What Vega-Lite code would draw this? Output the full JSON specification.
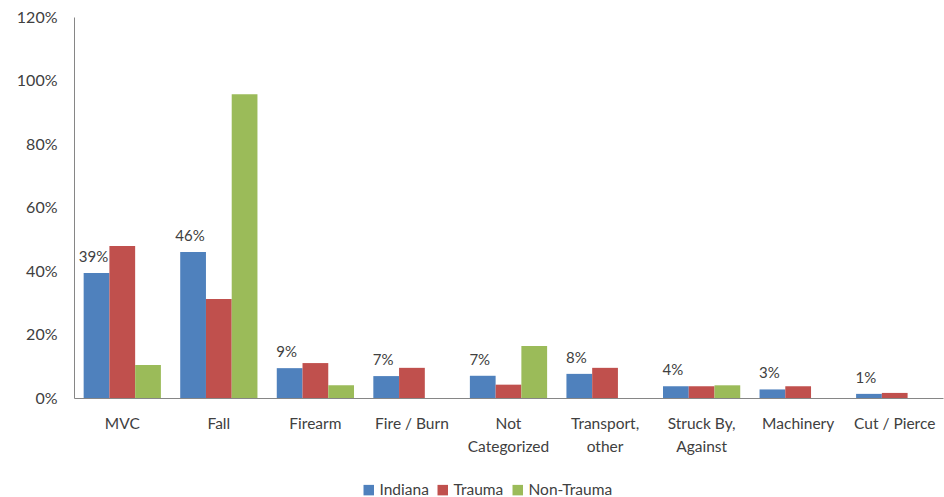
{
  "$schema": "https://vega.github.io/schema/vega-lite/v6.json",
  "autosize": {"type": "none"},
  "width": 869,
  "height": 381,
  "padding": {"left": 74, "top": 17, "right": 1, "bottom": 99},
  "background": "white",
  "config": {
    "font": "Lato",
    "view": {"stroke": null},
    "axis": {"labelFont": "Lato", "labelColor": "#404040", "grid": false, "ticks": false, "domainColor": "#868686", "title": null}
  },
  "data": {
    "values": [
      {"cat": "MVC", "series": "Indiana", "v": 0.394},
      {"cat": "MVC", "series": "Trauma", "v": 0.479},
      {"cat": "MVC", "series": "Non-Trauma", "v": 0.104},
      {"cat": "Fall", "series": "Indiana", "v": 0.46},
      {"cat": "Fall", "series": "Trauma", "v": 0.312},
      {"cat": "Fall", "series": "Non-Trauma", "v": 0.957},
      {"cat": "Firearm", "series": "Indiana", "v": 0.094},
      {"cat": "Firearm", "series": "Trauma", "v": 0.11},
      {"cat": "Firearm", "series": "Non-Trauma", "v": 0.04},
      {"cat": "Fire / Burn", "series": "Indiana", "v": 0.069},
      {"cat": "Fire / Burn", "series": "Trauma", "v": 0.095},
      {"cat": "Not|Categorized", "series": "Indiana", "v": 0.07},
      {"cat": "Not|Categorized", "series": "Trauma", "v": 0.042},
      {"cat": "Not|Categorized", "series": "Non-Trauma", "v": 0.164},
      {"cat": "Transport,|other", "series": "Indiana", "v": 0.076},
      {"cat": "Transport,|other", "series": "Trauma", "v": 0.095},
      {"cat": "Struck By,|Against", "series": "Indiana", "v": 0.037},
      {"cat": "Struck By,|Against", "series": "Trauma", "v": 0.037},
      {"cat": "Struck By,|Against", "series": "Non-Trauma", "v": 0.04},
      {"cat": "Machinery", "series": "Indiana", "v": 0.027},
      {"cat": "Machinery", "series": "Trauma", "v": 0.037},
      {"cat": "Cut / Pierce", "series": "Indiana", "v": 0.013},
      {"cat": "Cut / Pierce", "series": "Trauma", "v": 0.016}
    ]
  },
  "encoding": {
    "x": {
      "field": "cat", "type": "nominal", "sort": null,
      "scale": {"paddingInner": 0.2, "paddingOuter": 0.1},
      "axis": {"labelAngle": 0, "labelFontSize": 15.5, "labelPadding": 18, "labelLineHeight": 23, "labelBaseline": "top",
               "labelExpr": "split(datum.label, '|')"}
    },
    "xOffset": {"field": "series", "type": "nominal", "sort": ["Indiana", "Trauma", "Non-Trauma"],
                "scale": {"domain": ["Indiana", "Trauma", "Non-Trauma"], "paddingInner": 0, "paddingOuter": 0}},
    "y": {
      "field": "v", "type": "quantitative",
      "scale": {"domain": [0, 1.2], "nice": false},
      "axis": {"values": [0, 0.2, 0.4, 0.6, 0.8, 1.0, 1.2], "format": ".0%", "labelFontSize": 16, "labelPadding": 17}
    }
  },
  "layer": [
    {
      "mark": {"type": "bar"},
      "encoding": {
        "color": {
          "field": "series", "type": "nominal",
          "scale": {"domain": ["Indiana", "Trauma", "Non-Trauma"], "range": ["#4F81BD", "#C0504D", "#9BBB59"]},
          "legend": {"title": null, "orient": "none", "direction": "horizontal", "legendX": 287, "legendY": 465,
                     "symbolType": "square", "symbolSize": 110, "symbolStrokeWidth": 0, "labelFontSize": 15.5,
                     "labelColor": "#404040", "labelFont": "Lato", "columnPadding": 6, "labelOffset": 3}
        }
      }
    },
    {
      "transform": [{"filter": "datum.series === 'Indiana'"}],
      "mark": {"type": "text", "baseline": "bottom", "dy": -8, "dx": -3, "fontSize": 15, "color": "#404040"},
      "encoding": {"text": {"field": "v", "type": "quantitative", "format": ".0%"}}
    }
  ]
}
